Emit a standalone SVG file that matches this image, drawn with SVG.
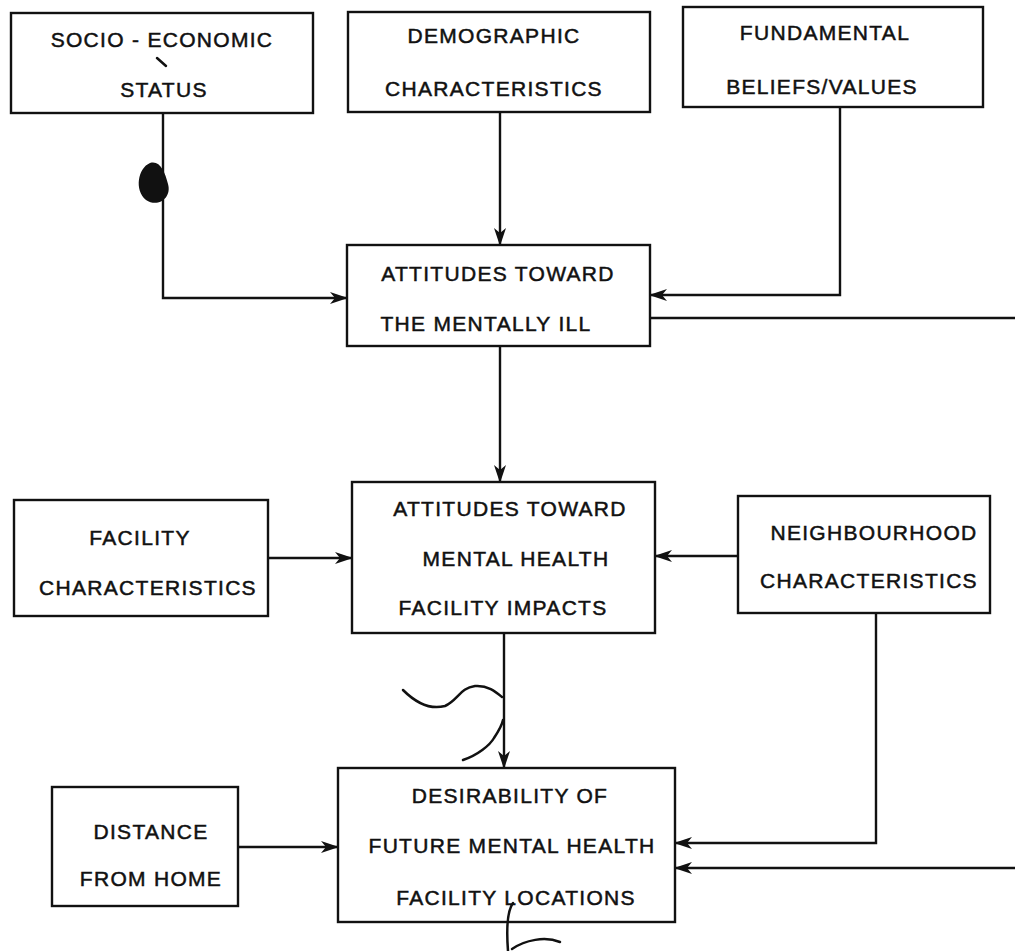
<svg xmlns="http://www.w3.org/2000/svg" width="1015" height="951" viewBox="0 0 1015 951">
<defs>
<style>
.box{fill:#fff;stroke:#111;stroke-width:2.4}
.t{font-family:"Liberation Sans",Arial,sans-serif;font-size:21px;letter-spacing:1.3px;fill:#111;stroke:#111;stroke-width:0.5;text-anchor:middle}
.c{fill:none;stroke:#111;stroke-width:2.4}
.mk{fill:none;stroke:#111;stroke-width:2.5;stroke-linecap:round}
</style>
<marker id="ah" viewBox="0 0 18 12" refX="17" refY="6" markerWidth="18" markerHeight="12" markerUnits="userSpaceOnUse" orient="auto">
<path d="M0,0 L18,6 L0,12 L5,6 Z" fill="#111"/>
</marker>
</defs>
<rect width="1015" height="951" fill="#fff"/>
<g id="connectors">
<polyline class="c" points="163,113 163,298 347,298" marker-end="url(#ah)"/>
<line class="c" x1="500" y1="112" x2="500" y2="245" marker-end="url(#ah)"/>
<polyline class="c" points="840,107 840,295 650,295" marker-end="url(#ah)"/>
<line class="c" x1="650" y1="318" x2="1015" y2="318"/>
<line class="c" x1="500" y1="346" x2="500" y2="482" marker-end="url(#ah)"/>
<line class="c" x1="268" y1="558" x2="352" y2="558" marker-end="url(#ah)"/>
<line class="c" x1="738" y1="556" x2="655" y2="556" marker-end="url(#ah)"/>
<line class="c" x1="504" y1="633" x2="504" y2="768" marker-end="url(#ah)"/>
<polyline class="c" points="876,613 876,843 675,843" marker-end="url(#ah)"/>
<line class="c" x1="1015" y1="868" x2="675" y2="868" marker-end="url(#ah)"/>
<line class="c" x1="238" y1="847" x2="338" y2="847" marker-end="url(#ah)"/>
</g>
<g id="n-socio">
<rect class="box" x="11" y="13" width="302" height="100"/>
<text class="t" x="162" y="47">SOCIO - ECONOMIC</text>
<text class="t" x="164" y="97">STATUS</text>
</g>
<g id="n-demo">
<rect class="box" x="348" y="12" width="302" height="100"/>
<text class="t" x="494" y="43">DEMOGRAPHIC</text>
<text class="t" x="494" y="96">CHARACTERISTICS</text>
</g>
<g id="n-fund">
<rect class="box" x="683" y="7" width="300" height="100"/>
<text class="t" x="825" y="40">FUNDAMENTAL</text>
<text class="t" x="822" y="94">BELIEFS/VALUES</text>
</g>
<g id="n-att-ill">
<rect class="box" x="347" y="245" width="303" height="101"/>
<text class="t" x="498" y="281">ATTITUDES TOWARD</text>
<text class="t" x="486" y="331">THE MENTALLY ILL</text>
</g>
<g id="n-fac">
<rect class="box" x="14" y="500" width="254" height="116"/>
<text class="t" x="140" y="545">FACILITY</text>
<text class="t" x="148" y="595">CHARACTERISTICS</text>
</g>
<g id="n-att-fac">
<rect class="box" x="352" y="482" width="303" height="151"/>
<text class="t" x="510" y="516">ATTITUDES TOWARD</text>
<text class="t" x="516" y="566">MENTAL HEALTH</text>
<text class="t" x="503" y="615">FACILITY IMPACTS</text>
</g>
<g id="n-neigh">
<rect class="box" x="738" y="496" width="252" height="117"/>
<text class="t" x="874" y="540">NEIGHBOURHOOD</text>
<text class="t" x="869" y="588">CHARACTERISTICS</text>
</g>
<g id="n-dist">
<rect class="box" x="52" y="787" width="186" height="119"/>
<text class="t" x="151" y="839">DISTANCE</text>
<text class="t" x="151" y="886">FROM HOME</text>
</g>
<g id="n-desir">
<rect class="box" x="338" y="768" width="337" height="154"/>
<text class="t" x="510" y="803">DESIRABILITY OF</text>
<text class="t" x="512" y="853">FUTURE MENTAL HEALTH</text>
<text class="t" x="516" y="905">FACILITY LOCATIONS</text>
</g>
<g id="marks">
<path d="M150,163 C138,168 134,190 146,200 C158,208 172,198 168,184 C165,172 160,160 150,163 Z" fill="#111"/>
<path class="mk" stroke-width="1.8" d="M157,58 L166,66"/>
<path class="mk" d="M403,690 C415,702 430,710 445,706 C458,700 460,688 475,686 C488,685 496,692 502,697"/>
<path class="mk" stroke-width="4" d="M463,760 C478,755 490,745 494,738 C498,732 502,725 503,720"/>
<path class="mk" d="M513,903 C508,910 506,925 508,951"/>
<path class="mk" d="M512,949 C525,940 545,936 560,942"/>
</g>
</svg>
